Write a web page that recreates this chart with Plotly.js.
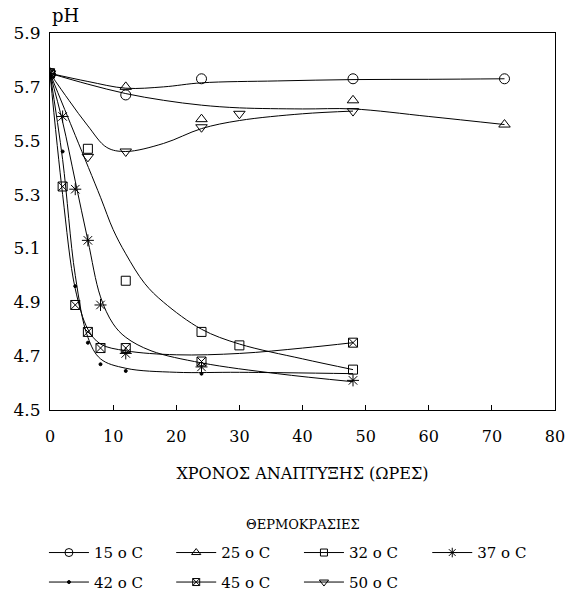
<!DOCTYPE html>
<html>
<head>
<meta charset="utf-8">
<script src="https://cdn.plot.ly/plotly-3.0.1.min.js"></script>
<style>html,body{margin:0;padding:0;background:#fff;}</style>
</head>
<body>
<div id="chart" style="width:571px;height:592px;"></div>
<script>
// Measured points (time in hours, pH)
const t15 = [0, 12, 24, 48, 72];
const ph15 = [5.75, 5.67, 5.73, 5.73, 5.73];
const t25 = [0, 12, 24, 48, 72];
const ph25 = [5.75, 5.70, 5.58, 5.65, 5.56];
const t32 = [0, 6, 12, 24, 30, 48];
const ph32 = [5.75, 5.47, 4.98, 4.79, 4.74, 4.65];
const t37 = [0, 2, 4, 6, 8, 12, 24, 48];
const ph37 = [5.75, 5.59, 5.32, 5.13, 4.89, 4.71, 4.66, 4.61];
const t42 = [0, 2, 4, 6, 8, 12, 24];
const ph42 = [5.75, 5.46, 4.96, 4.75, 4.67, 4.645, 4.635];
const t45 = [0, 2, 4, 6, 8, 12, 24, 48];
const ph45 = [5.75, 5.33, 4.89, 4.79, 4.73, 4.73, 4.68, 4.75];
const t50 = [0, 6, 12, 24, 30, 48];
const ph50 = [5.75, 5.44, 5.46, 5.55, 5.60, 5.61];

// Fitted curves
const fit15X = [0, 6, 12, 18, 24, 36, 48, 60, 72];
const fit15Y = [5.75, 5.72, 5.695, 5.70, 5.715, 5.722, 5.727, 5.728, 5.73];
const fit25X = [0, 6, 12, 18, 24, 30, 40, 48, 60, 72];
const fit25Y = [5.75, 5.71, 5.675, 5.65, 5.632, 5.622, 5.618, 5.618, 5.59, 5.56];
const fit32X = [0, 4, 8, 10, 12, 15, 18, 24, 30, 40, 48];
const fit32Y = [5.75, 5.52, 5.29, 5.17, 5.08, 4.97, 4.90, 4.80, 4.745, 4.69, 4.65];
const fit37X = [0, 2, 4, 6, 8, 10, 12, 16, 24, 36, 48];
const fit37Y = [5.75, 5.57, 5.35, 5.13, 4.92, 4.82, 4.77, 4.72, 4.675, 4.635, 4.605];
const fit42X = [0, 2, 4, 6, 8, 12, 20, 30, 48];
const fit42Y = [5.75, 5.43, 5.0, 4.77, 4.69, 4.655, 4.64, 4.64, 4.635];
const fit45X = [0, 2, 4, 6, 8, 12, 20, 30, 40, 48];
const fit45Y = [5.75, 5.30, 4.95, 4.80, 4.745, 4.72, 4.705, 4.71, 4.73, 4.75];
const fit50X = [0, 3, 6, 9, 12, 18, 24, 30, 40, 48];
const fit50Y = [5.75, 5.65, 5.555, 5.475, 5.46, 5.49, 5.545, 5.575, 5.60, 5.61];

const names = ['15 o C', '25 o C', '32 o C', '37 o C', '42 o C', '45 o C', '50 o C'];
const legendTitle = 'ΘΕΡΜΟΚΡΑΣΙΕΣ';
const xTitle = 'ΧΡΟΝΟΣ ΑΝΑΠΤΥΞΗΣ (ΩΡΕΣ)';
const yTitle = 'pH';
const symbols = ['circle-open', 'triangle-up-open', 'square-open', 'asterisk-open', 'circle', 'square-x-open', 'triangle-down-open'];
const sizes = [10, 10, 9, 10, 3, 9, 10];
const legendCol = ['legend', 'legend2', 'legend3', 'legend4', 'legend', 'legend2', 'legend3'];

const pts = [[t15, ph15], [t25, ph25], [t32, ph32], [t37, ph37], [t42, ph42], [t45, ph45], [t50, ph50]];
const fits = [[fit15X, fit15Y], [fit25X, fit25Y], [fit32X, fit32Y], [fit37X, fit37Y], [fit42X, fit42Y], [fit45X, fit45Y], [fit50X, fit50Y]];

const traces = [];
for (let i = 0; i < names.length; i++) {
  traces.push({
    x: fits[i][0], y: fits[i][1], mode: 'lines', type: 'scatter',
    line: {color: '#000', width: 1, shape: 'spline', smoothing: 1},
    showlegend: false, hoverinfo: 'skip'
  });
  traces.push({
    x: pts[i][0], y: pts[i][1], mode: 'markers', type: 'scatter',
    marker: {symbol: symbols[i], size: sizes[i], color: '#000', line: {color: '#000', width: 1}},
    showlegend: false
  });
}
// legend entries (no data points of their own)
for (let i = 0; i < names.length; i++) {
  traces.push({
    x: [null], y: [null], mode: 'lines+markers', type: 'scatter', name: names[i],
    legend: legendCol[i], legendgroup: 'g' + i,
    line: {color: '#000', width: 1},
    marker: {symbol: symbols[i], size: Math.max(sizes[i] - 2, 3), color: '#000', line: {color: '#000', width: 1}},
    showlegend: true
  });
}

const serif = 'DejaVu Serif, serif';
function legendAt(xp) {
  return {
    orientation: 'v', x: xp, xanchor: 'left', y: -0.335, yanchor: 'top',
    itemwidth: 40, tracegroupgap: 7, bgcolor: 'rgba(0,0,0,0)',
    font: {family: serif, size: 15, color: '#000'}
  };
}
const layout = {
  width: 571, height: 592,
  margin: {l: 50, r: 16, t: 33, b: 182, autoexpand: false},
  paper_bgcolor: '#fff', plot_bgcolor: '#fff',
  font: {family: serif, color: '#000'},
  showlegend: true,
  xaxis: {
    range: [0, 80], tick0: 0, dtick: 10, ticks: 'inside', ticklen: 5, tickcolor: '#000',
    showline: true, linecolor: '#000', linewidth: 1, mirror: true, showgrid: false, zeroline: false,
    automargin: false,
    tickfont: {family: serif, size: 16, color: '#000'}, ticklabelstandoff: 12,
    title: {text: xTitle, font: {family: serif, size: 16, color: '#000'}, standoff: 22}
  },
  yaxis: {
    range: [4.5, 5.9], tick0: 4.5, dtick: 0.2, ticks: '', tickformat: '.1f',
    showline: true, linecolor: '#000', linewidth: 1, mirror: true, showgrid: false, zeroline: false,
    automargin: false,
    tickfont: {family: serif, size: 17, color: '#000'}, ticklabelstandoff: 5
  },
  annotations: [{
    text: yTitle, xref: 'paper', yref: 'paper', x: 0.0, y: 1.0, xanchor: 'left', yanchor: 'bottom',
    yshift: 5, xshift: 0, showarrow: false, font: {family: serif, size: 18, color: '#000'}
  }, {
    text: legendTitle, xref: 'paper', yref: 'paper', x: 0.501, y: -0.305, xanchor: 'center', yanchor: 'middle',
    showarrow: false, font: {family: serif, size: 13, color: '#000'}
  }],
  legend: legendAt(-0.012),
  legend2: legendAt(0.24),
  legend3: legendAt(0.493),
  legend4: legendAt(0.747)
};

Plotly.newPlot('chart', traces, layout, {displayModeBar: false, staticPlot: true});
</script>
</body>
</html>
